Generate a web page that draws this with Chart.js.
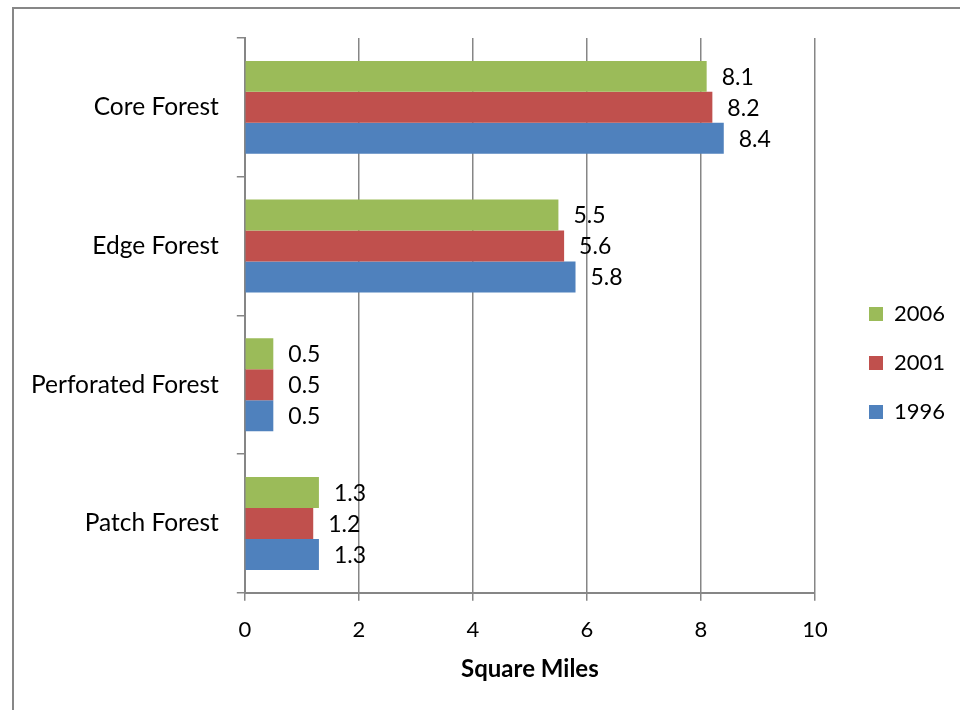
<!DOCTYPE html>
<html>
<head>
<meta charset="utf-8">
<script src="https://cdn.jsdelivr.net/npm/chart.js@4.4.1/dist/chart.umd.min.js"></script>
<style>
  html, body { margin: 0; padding: 0; background: #fff; }
  #frame {
    position: absolute; left: 12px; top: 7px; width: 1000px; height: 800px;
    border-left: 2px solid #878787; border-top: 2px solid #878787;
  }
  #wrap { position: absolute; left: 0; top: 0; width: 960px; height: 710px; }
</style>
</head>
<body>
<div id="frame"></div>
<div id="wrap"><canvas id="chart" width="960" height="710"></canvas></div>
<script>
// Forest cover by type, in square miles
const categories = ['Core Forest', 'Edge Forest', 'Perforated Forest', 'Patch Forest'];
const years = ['2006', '2001', '1996'];
const values2006 = [8.1, 5.5, 0.5, 1.3];
const values2001 = [8.2, 5.6, 0.5, 1.2];
const values1996 = [8.4, 5.8, 0.5, 1.3];
const xTicks = [0, 2, 4, 6, 8, 10];

const colors = ['#9bbb59', '#c0504d', '#4f81bd'];
const seriesValues = [values2006, values2001, values1996];
const FONT = 'Lato, "Open Sans", sans-serif';
const gridColor = '#868686';

// Writes each bar's value just past its end
const valueLabels = {
  id: 'valueLabels',
  afterDatasetsDraw(chart) {
    const ctx = chart.ctx;
    ctx.save();
    ctx.font = '23px ' + FONT;
    ctx.fillStyle = '#000';
    ctx.textAlign = 'left';
    ctx.textBaseline = 'middle';
    chart.data.datasets.forEach((ds, i) => {
      const meta = chart.getDatasetMeta(i);
      meta.data.forEach((bar, j) => {
        ctx.fillText(ds.data[j].toFixed(1), bar.x + 15, bar.y + 1);
      });
    });
    ctx.restore();
  }
};

// Nudges the legend box toward the right edge of the canvas
const legendShift = {
  id: 'legendShift',
  afterLayout(chart) {
    const lg = chart.legend;
    if (!lg) return;
    lg.left += 27; lg.right += 27;
    lg.top += 2; lg.bottom += 2;
  }
};

new Chart(document.getElementById('chart'), {
  type: 'bar',
  data: {
    labels: categories,
    datasets: years.map((y, i) => ({
      label: y,
      data: seriesValues[i],
      backgroundColor: colors[i],
      borderWidth: 0,
      categoryPercentage: 0.67,
      barPercentage: 1.0
    }))
  },
  options: {
    indexAxis: 'y',
    responsive: false,
    animation: false,
    devicePixelRatio: 1,
    layout: { padding: { left: 13, top: 38, right: 8, bottom: 26 } },
    plugins: {
      tooltip: { enabled: false },
      legend: {
        position: 'right',
        align: 'center',
        labels: {
          boxWidth: 14,
          boxHeight: 14,
          padding: 27,
          color: '#000',
          font: { family: FONT, size: 22 }
        }
      }
    },
    scales: {
      x: {
        min: 0,
        max: 10,
        afterBuildTicks(axis) { axis.ticks = xTicks.map(v => ({ value: v })); },
        // leave a wide gap between the plot and the legend
        afterFit(axis) { axis.paddingRight = Math.max(axis.paddingRight, 145); },
        grid: { color: gridColor, lineWidth: 1.5, tickLength: 8 },
        border: { color: gridColor, width: 2 },
        ticks: { color: '#000', font: { family: FONT, size: 22 }, padding: 16 },
        title: {
          display: true,
          text: 'Square Miles',
          color: '#000',
          font: { family: FONT, size: 24, weight: 'bold' },
          padding: { top: -4, bottom: 0 }
        }
      },
      y: {
        grid: { drawOnChartArea: false, color: gridColor, lineWidth: 1.5, tickLength: 8 },
        border: { color: gridColor, width: 2 },
        ticks: { color: '#000', font: { family: FONT, size: 24.5 }, padding: 18 }
      }
    }
  },
  plugins: [valueLabels, legendShift]
});
</script>
</body>
</html>
